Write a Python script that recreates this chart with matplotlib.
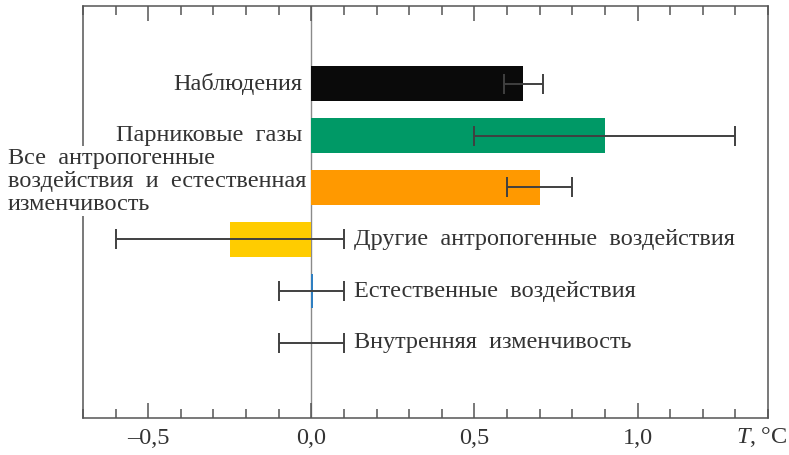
import matplotlib
matplotlib.use("Agg")
import matplotlib.pyplot as plt
from matplotlib.ticker import MultipleLocator

# Вклады в изменение температуры, °C
labels = ["Наблюдения", "Парниковые  газы",
          "Все  антропогенные\nвоздействия  и  естественная\nизменчивость",
          "Другие  антропогенные  воздействия", "Естественные  воздействия",
          "Внутренняя  изменчивость"]
values = [0.65, 0.90, 0.70, -0.25, 0.005, 0.0]
err_low = [0.59, 0.50, 0.60, -0.60, -0.10, -0.10]
err_high = [0.71, 1.30, 0.80, 0.10, 0.10, 0.10]
colors = ["#0a0a0a", "#009966", "#ff9900", "#ffcc00", "#2f7fc1", "none"]

tick_vals = [-0.5, 0.0, 0.5, 1.0]
tick_labels = ["\u20130,5", "0,0", "0,5", "1,0"]

plt.rcParams['font.family'] = ['Liberation Serif', 'DejaVu Serif']
plt.rcParams['mathtext.fontset'] = 'custom'
plt.rcParams['mathtext.it'] = 'Liberation Serif:italic'
plt.rcParams['mathtext.rm'] = 'Liberation Serif'
fs = 17.5

fig = plt.figure(figsize=(7.89, 4.55), dpi=100)
ax = fig.add_axes([83 / 789, 1 - 418 / 455, 685 / 789, 412 / 455])

ypos = list(range(len(values)))
ax.barh(ypos, values, height=0.67, color=colors, zorder=2)

xerr = [[v - lo for v, lo in zip(values, err_low)],
        [hi - v for v, hi in zip(values, err_high)]]
ax.errorbar(values, ypos, xerr=xerr, fmt='none', ecolor='#404040',
            elinewidth=1.4, capsize=7, capthick=1.4, zorder=3)

ax.axvline(0, color='#8a8a8a', lw=1.0, zorder=1)

ax.set_xlim(-0.7, 1.4)
ax.set_ylim(6.45, -1.5)
ax.set_yticks([])
ax.set_xticks(tick_vals)
ax.set_xticklabels(tick_labels, fontsize=fs, color='#333333')
ax.xaxis.set_minor_locator(MultipleLocator(0.1))
ax.tick_params(axis='x', which='both', direction='in', top=True,
               color='#555555', width=1.1, pad=7)
ax.tick_params(axis='x', which='major', length=11)
ax.tick_params(axis='x', which='minor', length=6.5)
for s in ax.spines.values():
    s.set_color('#555555')
    s.set_linewidth(1.1)

txt = '#333333'
# подписи слева от нуля
for i in (0, 1):
    ax.text(-0.028, ypos[i], labels[i], ha='right', va='center',
            fontsize=fs, color=txt)
# многострочная подпись поверх левой рамки
ax.text(-0.93, 1.88, labels[2], ha='left', va='center', fontsize=fs,
        color=txt, linespacing=1.13, clip_on=False, zorder=5,
        bbox=dict(facecolor='white', edgecolor='none', pad=1))
# подписи справа от нуля
for i in (3, 4, 5):
    ax.text(0.13, ypos[i], labels[i], ha='left', va='center',
            fontsize=fs, color=txt)

fig.text(787 / 789, 1 - 425 / 455, "$T$,\u2009\u00b0C", ha='right', va='top',
         fontsize=fs, color=txt)

fig.savefig("out.png", dpi=100)
